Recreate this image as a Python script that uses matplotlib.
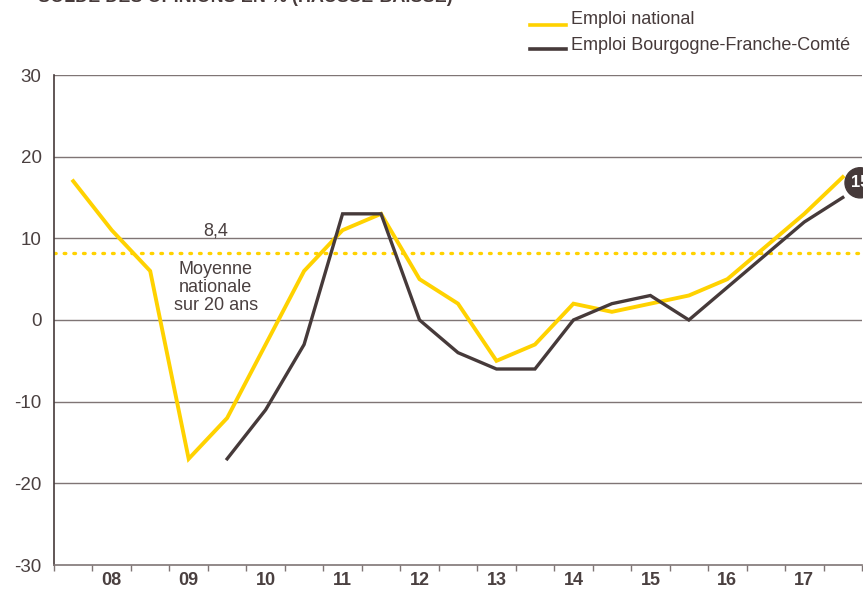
import matplotlib
matplotlib.use("Agg")
import matplotlib.pyplot as plt
import numpy as np

years = ["08", "09", "10", "11", "12", "13", "14", "15", "16", "17"]
national = [17, 11, 6, -17, -12, -3, 6, 11, 13, 5, 2, -5, -3, 2, 1, 2, 3, 5, 9, 13, 17.5]
bfc = [None, None, None, None, -17, -11, -3, 13, 13, 0, -4, -6, -6, 0, 2, 3, 0, 4, 8, 12, 15]
moyenne = 8.2
moyenne_label = "8,4"
last_label = "15"

YELLOW = "#FFD200"
DARK = "#463a3a"
GRID = "#7f7575"
TXT = "#4a4040"

plt.rcParams['font.family'] = ['Liberation Sans', 'DejaVu Sans']

fig = plt.figure(figsize=(8.63, 5.90), dpi=100)
ax = fig.add_axes([54/863, 1-565/590, 808/863, 490/590])

x = np.arange(len(national))
nat = np.array(national, dtype=float)
reg = np.array([np.nan if v is None else v for v in bfc], dtype=float)

ax.set_xlim(-0.5, len(national) - 0.5)
ax.set_ylim(-30, 30)

for v in [-20, -10, 0, 10, 20, 30]:
    ax.axhline(v, color=GRID, lw=1.0, zorder=1)

ax.axhline(moyenne, color=YELLOW, lw=2.4, linestyle=(0, (0.5, 2.4)),
           dash_capstyle='round', zorder=2)

ax.plot(x, nat, color=YELLOW, lw=2.8, zorder=3, solid_joinstyle='miter')
ax.plot(x, reg, color=DARK, lw=2.4, zorder=4, solid_joinstyle='miter')

# annotations
ax.text(3.7, moyenne + 1.6, moyenne_label, ha='center', va='bottom',
        fontsize=13, color=TXT)
ax.text(3.7, moyenne - 1.0, "Moyenne\nnationale\nsur 20 ans", ha='center', va='top',
        fontsize=13, color=TXT, linespacing=1.05)

ax.text(20.45, 16.8, last_label, ha='center', va='center', fontsize=12,
        fontweight='bold', color='white', clip_on=False, zorder=6,
        bbox=dict(boxstyle='circle,pad=0.35', fc=DARK, ec=DARK))

# axes styling
for s in ['top', 'right']:
    ax.spines[s].set_visible(False)
ax.spines['left'].set_color(DARK)
ax.spines['left'].set_linewidth(1.2)
ax.spines['bottom'].set_color(GRID)
ax.spines['bottom'].set_linewidth(1.2)

ax.set_yticks([-30, -20, -10, 0, 10, 20, 30])
ax.set_yticklabels(["-30", "-20", "-10", "0", "10", "20", "30"])
ax.tick_params(axis='y', length=0, pad=9, labelsize=13.5, labelcolor=TXT)

ax.set_xticks(np.arange(-0.5, len(national), 1.0))
ax.set_xticklabels([])
ax.tick_params(axis='x', which='major', direction='out', length=4, color=GRID, width=1)
ax.set_xticks(np.arange(1, len(national), 2), minor=True)
ax.set_xticklabels(years, minor=True, fontweight='bold', fontsize=13, color=TXT)
ax.tick_params(axis='x', which='minor', length=0, pad=5)

# legend (manual)
fig.add_artist(plt.Line2D([530/863, 566/863], [1-25/590, 1-25/590], color=YELLOW, lw=2.6))
fig.add_artist(plt.Line2D([530/863, 566/863], [1-49/590, 1-49/590], color=DARK, lw=2.6))
fig.text(571/863, 1-19/590, "Emploi national", ha='left', va='center', fontsize=13, color=DARK)
fig.text(571/863, 1-45/590, "Emploi Bourgogne-Franche-Comté", ha='left', va='center', fontsize=13, color=DARK)

# cut-off title at top
fig.text(38/863, 1-(-2)/590, "SOLDE DES OPINIONS EN % (HAUSSE-BAISSE)", ha='left', va='center',
         fontsize=13, fontweight='bold', color=DARK)

fig.savefig("out.png", dpi=100)
